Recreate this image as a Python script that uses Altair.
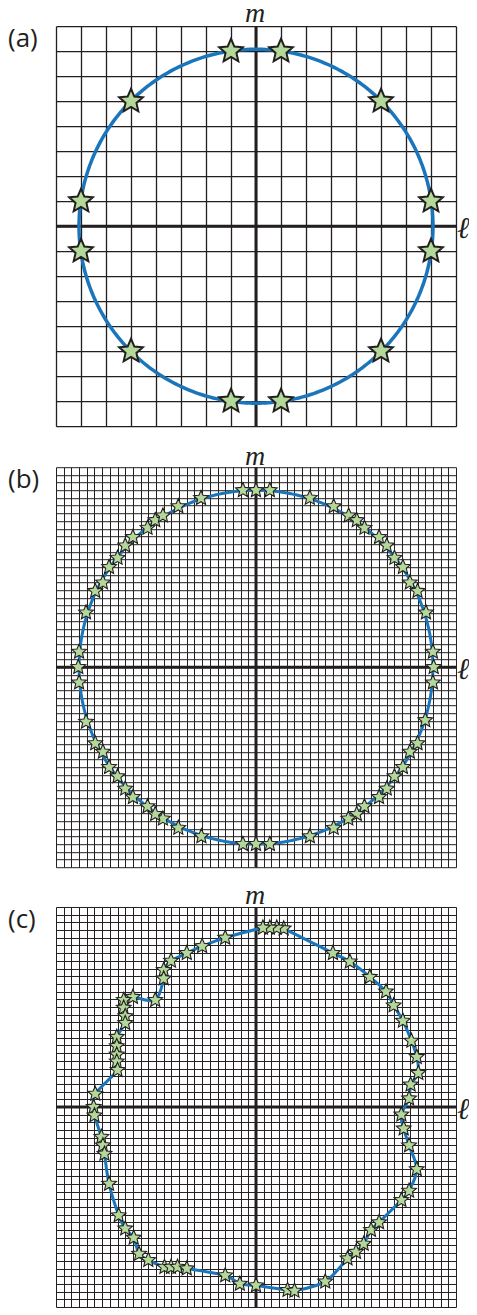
import altair as alt
import pandas as pd
import numpy as np

# ---------------- data ----------------
# panel (a): 16 x 16 grid (units), 12 stars on a ring
a_l = [1, 5, 7, 7, 5, 1, -1, -5, -7, -7, -5, -1]
a_m = [7, 5, 1, -1, -5, -7, -7, -5, -1, 1, 5, 7]
a_ring_radius = 7.08
a_lim = 8

# panel (b): 52 x 52 grid, stars on a ring
b_l = [0, 1.8, 7.0, 10.1, 12.05, 13.1, 14.1, 16.0, 17.0, 18.0, 19.1, 20.0, 21.0, 22.1, 23.0, 23.1,
       23.0, 22.0, 21.0, 20.0, 19.1, 18.0, 17.0, 16.0, 14.1, 13.1, 12.0, 10.1, 7.0, 1.8, 0,
       -1.7, -7.1, -10.1, -12.1, -13.1, -14.1, -16.0, -17.0, -18.0, -19.1, -19.9, -20.9, -22.1, -23.0, -23.1,
       -23.0, -22.1, -20.9, -19.9, -19.1, -18.0, -17.0, -16.0, -14.1, -13.1, -12.1, -10.1, -7.15, -1.7]
b_m = [23.0, 23.0, 22.0, 20.9, 19.7, 19.1, 18.1, 16.9, 15.8, 14.2, 13.0, 11.0, 9.9, 7.1, 2.0, 0,
       -2.0, -6.9, -9.9, -11.0, -13.0, -14.2, -15.8, -16.9, -18.1, -19.1, -19.7, -20.9, -22.0, -23.0, -23.0,
       -23.0, -22.0, -20.9, -19.7, -19.1, -18.1, -16.9, -15.8, -14.2, -13.0, -11.0, -9.9, -7.1, -2.0, 0,
       2.0, 7.1, 9.9, 11.0, 13.0, 14.2, 15.8, 16.9, 18.1, 19.1, 19.7, 20.9, 21.97, 23.0]
b_ring_radius = 23.0
bc_lim = 26

# panel (c): 52 x 52 grid, stars on a distorted ring (listed along the curve)
c_l = [19.9, 20.1, 21.1, 20.9, 20.2, 19.1, 17.9, 16.9, 14.8, 12.2, 10.0, 3.6, 2.7, 1.8, 0.9,
       -4.0, -7.0, -9.0, -11.05, -12.0, -12.0, -13.1, -16.0, -17.2, -17.2, -17.0, -17.0,
       -18.1, -18.1, -18.1, -18.1, -18.0, -20.9, -21.1, -21.0, -20.1, -19.9, -19.7, -19.1,
       -17.85, -17.0, -15.9, -15.2, -14.0, -11.9, -11.05, -10.2, -9.0, -4.0, -2.1, 0.0,
       4.1, 5.0, 9.0, 11.9, 13.0, 14.0, 14.95, 16.0, 18.9, 19.9, 20.9, 19.9, 19.2, 18.9]
c_m = [1.1, 2.9, 4.4, 6.5, 8.6, 11.2, 13.2, 15.0, 16.9, 18.9, 20.0, 23.2, 23.3, 23.3, 23.3,
       22.0, 20.9, 20.0, 19.0, 17.8, 16.7, 13.9, 14.3, 13.9, 12.9, 11.8, 10.9,
       9.1, 7.9, 6.8, 5.9, 4.8, 1.7, 0.0, -1.1, -3.9, -5.0, -6.1, -10.0,
       -14.1, -15.8, -17.0, -19.1, -19.9, -20.8, -20.8, -20.8, -21.0, -21.9, -23.0, -23.2,
       -23.8, -23.9, -22.7, -19.7, -18.85, -17.8, -16.0, -15.0, -12.1, -10.9, -8.1, -5.0, -2.8, -1.0]

# ---------------- styling ----------------
GRID_COLOR = "#231f20"
RING_COLOR = "#1b75bb"
STAR_FILL = "#b3d89a"
STAR_STROKE = "#231f20"

# five-pointed star symbol path in the unit box
ang = np.deg2rad(np.arange(10) * 36 - 90)
rad = np.where(np.arange(10) % 2 == 0, 1.0, 0.46)
STAR_PATH = "M" + "L".join(f"{r*np.cos(t):.4f},{r*np.sin(t):.4f}" for r, t in zip(rad, ang)) + "Z"


def ring(radius):
    t = np.linspace(0, 2 * np.pi, 361)
    return pd.DataFrame({"l": radius * np.cos(t), "m": radius * np.sin(t), "o": np.arange(361)})


def panel(stars, curve, lim, label, star_size, star_sw, ring_w, grid_w, m_y, ell_y, interp):
    sc = alt.Scale(domain=[-lim, lim], nice=False, zero=False)
    vals = list(range(-lim, lim + 1))
    ax = alt.Axis(values=vals, grid=True, gridColor=GRID_COLOR, gridWidth=grid_w, gridOpacity=1,
                  labels=False, ticks=False, domain=False, title=None)

    def X(f):
        return alt.X(f, type="quantitative", scale=sc, axis=ax)

    def Y(f):
        return alt.Y(f, type="quantitative", scale=sc, axis=ax)

    hax = alt.Chart(pd.DataFrame({"l": [-lim, lim], "m": [0, 0]})).mark_line(
        color=GRID_COLOR, strokeWidth=3).encode(x=X("l"), y=Y("m"))
    vax = alt.Chart(pd.DataFrame({"l": [0, 0], "m": [-lim, lim]})).mark_line(
        color=GRID_COLOR, strokeWidth=3).encode(x=X("l"), y=Y("m"))
    line = alt.Chart(curve).mark_line(color=RING_COLOR, strokeWidth=ring_w, interpolate=interp).encode(
        x=X("l"), y=Y("m"), order="o:Q")
    pts = alt.Chart(stars).mark_point(shape=STAR_PATH, filled=True, fill=STAR_FILL, stroke=STAR_STROKE,
                                      strokeWidth=star_sw, size=star_size, opacity=1).encode(
        x=X("l"), y=Y("m"))
    lab = alt.Chart(pd.DataFrame({"t": [label]})).mark_text(
        font="Open Sans", fontSize=26, align="left", baseline="alphabetic", color="#231f20").encode(
        x=alt.value(-48), y=alt.value(21), text="t:N")
    mlab = alt.Chart(pd.DataFrame({"t": ["m"]})).mark_text(
        font="Liberation Serif", fontStyle="italic", fontSize=28, align="center",
        baseline="alphabetic", color="#231f20").encode(x=alt.value(199), y=alt.value(m_y), text="t:N")
    llab = alt.Chart(pd.DataFrame({"t": ["ℓ"]})).mark_text(
        font="Liberation Serif", fontStyle="italic", fontSize=30, align="left",
        baseline="alphabetic", color="#231f20").encode(x=alt.value(401), y=alt.value(ell_y), text="t:N")
    return alt.layer(hax, vax, line, pts, lab, mlab, llab).properties(width=400, height=400)


sa = pd.DataFrame({"l": a_l, "m": a_m})
sb = pd.DataFrame({"l": b_l, "m": b_m})
sc_ = pd.DataFrame({"l": c_l, "m": c_m})
cc = sc_.copy()
cc["o"] = np.arange(len(cc))

pa = panel(sa, ring(a_ring_radius), a_lim, "(a)", 620, 2, 3.5, 1.3, -4, 212, "linear")
pb = panel(sb, ring(b_ring_radius), bc_lim, "(b)", 240, 1.1, 3, 1, -2, 212, "linear")
pc = panel(sc_, cc, bc_lim, "(c)", 240, 1.1, 3, 1, -3, 212, "cardinal-closed")

chart = alt.vconcat(pa, alt.vconcat(pb, pc, spacing=39.8, bounds="flush"), spacing=41, bounds="flush").properties(
    padding={"left": 0, "top": -7.8, "right": -1, "bottom": 0}
).configure_view(stroke=None)

chart.save("out.html", embed_options={"renderer": "svg", "actions": False})
